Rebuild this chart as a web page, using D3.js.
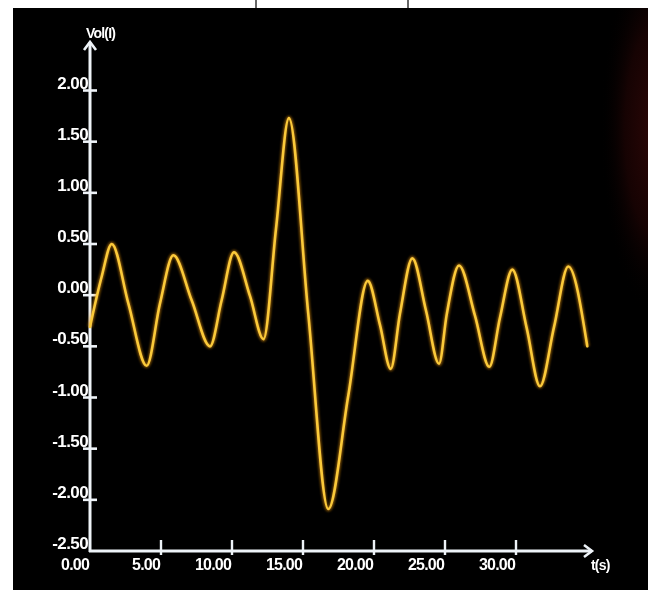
<!DOCTYPE html>
<html>
<head>
<meta charset="utf-8">
<script src="https://cdn.jsdelivr.net/npm/d3@7/dist/d3.min.js"></script>
<style>
  html, body { margin: 0; padding: 0; background: #fff; }
  svg { display: block; }
</style>
</head>
<body>
<svg id="chart" width="648" height="604"></svg>
<script>
// Sampled waveform: time (s) and voltage readings
const timeS = [0, 0.82, 1.53, 2.70, 3.99, 4.93, 5.87, 7.16, 8.45, 9.27, 10.14, 11.27, 12.22,
  13.10, 14.01, 15.37, 16.78, 18.19, 19.56, 20.42, 21.18, 21.83, 22.70, 23.66, 24.58,
  25.12, 25.99, 27.11, 28.12, 28.87, 29.74, 30.75, 31.69, 32.68, 33.68, 35.02];
const voltage = [-0.31, 0.18, 0.50, -0.08, -0.69, -0.08, 0.39, -0.05, -0.50, -0.05, 0.42, -0.01, -0.43,
  0.65, 1.73, -0.18, -2.09, -0.98, 0.14, -0.29, -0.72, -0.18, 0.36, -0.15, -0.67,
  -0.19, 0.29, -0.20, -0.70, -0.22, 0.25, -0.32, -0.89, -0.31, 0.28, -0.50];

// Axis ticks
const yTicks = [2.0, 1.5, 1.0, 0.5, 0.0, -0.5, -1.0, -1.5, -2.0, -2.5];
const xTicks = [0, 5, 10, 15, 20, 25, 30];
const yTitle = "Vol(I)";
const xTitle = "t(s)";

const svg = d3.select("#chart");

// Dark screen panel with a faint red tint along its right edge
const defs = svg.append("defs");
const glow = defs.append("radialGradient").attr("id", "edgeGlow")
  .attr("gradientUnits", "userSpaceOnUse")
  .attr("cx", 655).attr("cy", 130).attr("r", 55)
  .attr("gradientTransform", "translate(655,130) scale(1,3.4) translate(-655,-130)");
glow.append("stop").attr("offset", "0%").attr("stop-color", "#2c0707");
glow.append("stop").attr("offset", "55%").attr("stop-color", "#160303");
glow.append("stop").attr("offset", "100%").attr("stop-color", "#000").attr("stop-opacity", 0);

const lineBlur = defs.append("filter").attr("id", "lineBlur")
  .attr("x", "-10%").attr("y", "-10%").attr("width", "120%").attr("height", "120%");
lineBlur.append("feGaussianBlur").attr("stdDeviation", 1.2);

const soft = defs.append("filter").attr("id", "soft");
soft.append("feGaussianBlur").attr("stdDeviation", 0.45);

svg.append("rect").attr("x", 13).attr("y", 8).attr("width", 635).attr("height", 582).attr("fill", "#000");
svg.append("rect").attr("x", 13).attr("y", 8).attr("width", 635).attr("height", 582).attr("fill", "url(#edgeGlow)");

// Frame lines above the panel
svg.selectAll("line.frame").data([256, 408]).join("line")
  .attr("class", "frame")
  .attr("x1", d => d).attr("x2", d => d).attr("y1", 0).attr("y2", 8)
  .attr("stroke", "#333").attr("stroke-width", 1.5);

const x = d3.scaleLinear().domain([0, 35]).range([90, 587]);
const y = d3.scaleLinear().domain([-2.5, 2]).range([551, 90.5]);

const axisColor = "#eef3f8";
const g = svg.append("g").attr("filter", "url(#soft)");

// Y axis with arrow
g.append("line").attr("x1", x(0)).attr("x2", x(0)).attr("y1", y(-2.5) + 1).attr("y2", 42)
  .attr("stroke", axisColor).attr("stroke-width", 3);
g.append("path")
  .attr("d", `M${x(0) - 6},${50} L${x(0)},${42} L${x(0) + 6},${50}`)
  .attr("fill", "none").attr("stroke", axisColor).attr("stroke-width", 2.6);

// X axis with arrow
g.append("line").attr("x1", x(0) - 1).attr("x2", 592).attr("y1", y(-2.5)).attr("y2", y(-2.5))
  .attr("stroke", axisColor).attr("stroke-width", 3);
g.append("path")
  .attr("d", `M${584},${y(-2.5) - 6} L${592},${y(-2.5)} L${584},${y(-2.5) + 6}`)
  .attr("fill", "none").attr("stroke", axisColor).attr("stroke-width", 2.6);

// Y ticks and labels
const yT = yTicks.filter(v => v > -2.5);
g.selectAll("line.ytick").data(yT).join("line").attr("class", "ytick")
  .attr("x1", x(0) - 7).attr("x2", x(0) + 7)
  .attr("y1", d => y(d)).attr("y2", d => y(d))
  .attr("stroke", axisColor).attr("stroke-width", 2.6);

g.selectAll("text.ylab").data(yTicks).join("text").attr("class", "ylab")
  .attr("x", x(0) - 2)
  .attr("y", d => y(d) - 2)
  .attr("text-anchor", "end")
  .attr("fill", "#fff")
  .attr("font-family", "Liberation Sans, Arial, sans-serif")
  .attr("font-weight", "bold")
  .attr("font-size", 17)
  .attr("letter-spacing", -0.6)
  .text(d => d.toFixed(2));

// X ticks and labels
const xT = xTicks.filter(v => v > 0);
g.selectAll("line.xtick").data(xT).join("line").attr("class", "xtick")
  .attr("x1", d => x(d)).attr("x2", d => x(d))
  .attr("y1", y(-2.5) - 11).attr("y2", y(-2.5) + 4)
  .attr("stroke", axisColor).attr("stroke-width", 2.4);

g.selectAll("text.xlab").data(xTicks).join("text").attr("class", "xlab")
  .attr("x", d => x(d) - 1)
  .attr("y", y(-2.5) + 19)
  .attr("text-anchor", "end")
  .attr("fill", "#fff")
  .attr("font-family", "Liberation Sans, Arial, sans-serif")
  .attr("font-weight", "bold")
  .attr("font-size", 16)
  .attr("letter-spacing", -0.8)
  .text(d => d.toFixed(2));

// Axis titles
g.append("text").attr("x", 86).attr("y", 38)
  .attr("fill", "#fff").attr("font-family", "Liberation Sans, Arial, sans-serif")
  .attr("font-weight", "bold").attr("font-size", 14).attr("letter-spacing", -0.8)
  .text(yTitle);
g.append("text").attr("x", 591).attr("y", 570)
  .attr("fill", "#fff").attr("font-family", "Liberation Sans, Arial, sans-serif")
  .attr("font-weight", "bold").attr("font-size", 14).attr("letter-spacing", -0.8)
  .text(xTitle);

// Waveform
const pts = timeS.map((t, i) => [t, voltage[i]]);
const line = d3.line().x(d => x(d[0])).y(d => y(d[1])).curve(d3.curveMonotoneX);

svg.append("path").datum(pts).attr("d", line)
  .attr("fill", "none").attr("stroke", "#e0900f").attr("stroke-width", 5)
  .attr("stroke-opacity", 0.55).attr("filter", "url(#lineBlur)");
svg.append("path").datum(pts).attr("d", line)
  .attr("fill", "none").attr("stroke", "#fbca3a").attr("stroke-width", 2.6)
  .attr("stroke-linejoin", "round").attr("stroke-linecap", "round");
</script>
</body>
</html>
